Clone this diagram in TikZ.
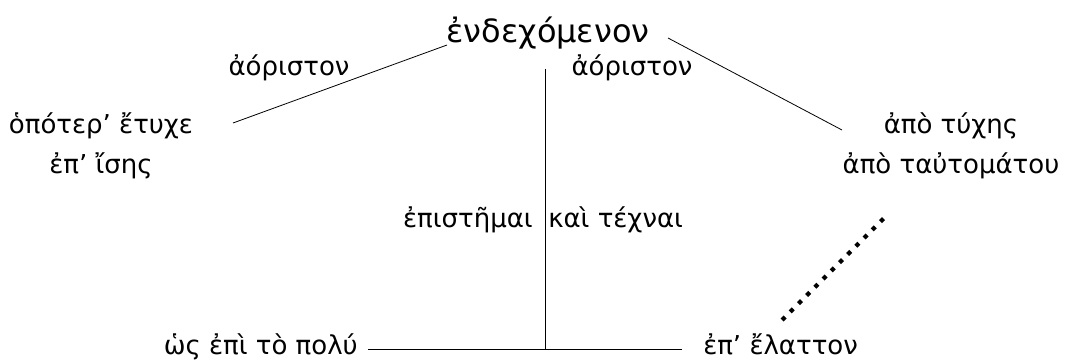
\documentclass[tikz,border=0pt]{standalone}
\usepackage{fontspec}
\setmainfont{DejaVu Sans}
\usetikzlibrary{positioning}

\begin{document}
\begin{tikzpicture}[x=0.75pt,y=-0.75pt,
    greek/.style={inner sep=0pt,font=\fontsize{19.5}{30}\selectfont},
    headword/.style={inner sep=0pt,font=\fontsize{24}{28}\selectfont},
    branch/.style={line width=0.6pt},
    weakbranch/.style={line width=3.2pt,dash pattern=on 3.2pt off 5.5pt}]
  \useasboundingbox (0,0) rectangle (1073,361);

  % top of the tree
  \node[headword,anchor=base] (endech) at (548,42) {ἐνδεχόμενον};
  \node[greek,anchor=base] (aorL) at (289,75) {ἀόριστον};
  \node[greek,anchor=base] (aorR) at (632,75) {ἀόριστον};

  % the three outcomes
  \node[greek,anchor=base] (etyche) at (101,133) {ὁπότερ’ ἔτυχε};
  \node[greek,anchor=base] (isis) at (101,173) {ἐπ’ ἴσης};
  \node[greek,anchor=base] (tyche) at (951,133) {ἀπὸ τύχης};
  \node[greek,anchor=base] (autom) at (951,173) {ἀπὸ ταὐτομάτου};

  \node[greek,anchor=base east] (epist) at (533,227) {ἐπιστῆμαι};
  \node[greek,anchor=base west] (techn) at (548,227) {καὶ τέχναι};

  \node[greek,anchor=base east] (poly) at (358,354) {ὡς ἐπὶ τὸ πολύ};
  \node[greek,anchor=base west] (elatt) at (703,354) {ἐπ’ ἔλαττον};

  % line ends
  \coordinate (jL) at (447,45);
  \coordinate (jR) at (668,38);
  \coordinate (eL) at (233,123);
  \coordinate (eR) at (842,130);
  \coordinate (stem) at (545,69);
  \coordinate (foot) at (545,349);
  \coordinate (hL) at (368,349);
  \coordinate (hR) at (682,349);
  \coordinate (dA) at (888,214);
  \coordinate (dB) at (782,320);

  \draw[branch] (jL) -- (eL);
  \draw[branch] (jR) -- (eR);
  \draw[branch] (stem) -- (foot);
  \draw[branch] (hL) -- (hR);
  \draw[weakbranch] (dB) -- (dA);
\end{tikzpicture}
\end{document}
